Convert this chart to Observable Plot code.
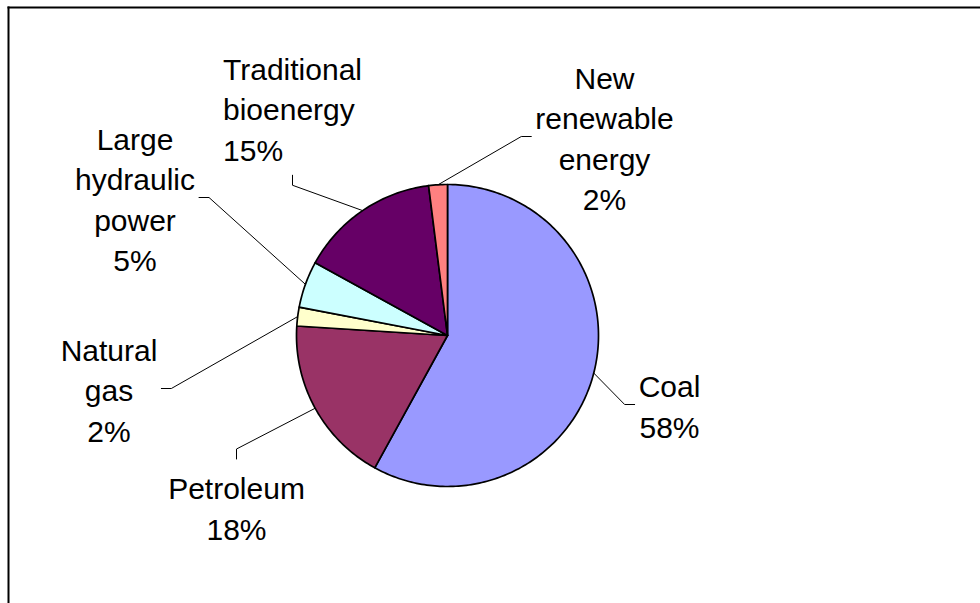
<!DOCTYPE html>
<html>
<head>
<meta charset="utf-8">
<script src="https://cdn.jsdelivr.net/npm/d3@7"></script>
<script src="https://cdn.jsdelivr.net/npm/@observablehq/plot@0.6"></script>
<style>
  html, body { margin: 0; padding: 0; background: #fff; }
  #chart svg { display: block; }
</style>
</head>
<body>
<div id="chart"></div>
<script>
// Energy sources, share of total (%), drawn clockwise from 12 o'clock
const categories = ["Coal", "Petroleum", "Natural gas", "Large hydraulic power", "Traditional bioenergy", "New renewable energy"];
const shares = [58, 18, 2, 5, 15, 2];
const colors = ["#9999FF", "#993366", "#FFFFCC", "#CCFFFF", "#660066", "#FF8080"];

// Page geometry (pixels)
const W = 980, H = 603;
const CX = 447, CY = 335, R = 151;
const FONT = "Liberation Sans, Arial, Helvetica, sans-serif";
const FS = 30, LH = 1.35;

// Label placement: block centre relative to the pie centre, alignment,
// and the side of the block where the leader line attaches
const labelLayout = [
  {dx: 222,    dy: 69,   align: "middle", side: "left"},
  {dx: -211,   dy: 171,  align: "middle", side: "top"},
  {dx: -338.5, dy: 53,   align: "middle", side: "right"},
  {dx: -312.5, dy: -138, align: "middle", side: "right"},
  {dx: -155,   dy: -228, align: "start",  side: "bottom"},
  {dx: 157,    dy: -199, align: "middle", side: "left"}
];

const rows = categories.map((name, i) => ({name, share: shares[i], color: colors[i], layout: labelLayout[i]}));
const arcs = d3.pie().sort(null).value(d => d.share)(rows);

// Slice outlines in pixel units around the centre
const slicePts = [];
for (const a of arcs) {
  const n = Math.max(2, Math.ceil((a.endAngle - a.startAngle) / (Math.PI / 180)));
  slicePts.push({name: a.data.name, color: a.data.color, x: 0, y: 0});
  for (let i = 0; i <= n; i++) {
    const t = a.startAngle + (a.endAngle - a.startAngle) * i / n;
    slicePts.push({name: a.data.name, color: a.data.color, x: R * Math.sin(t), y: -R * Math.cos(t)});
  }
}

// Text measurement for label blocks
const ctx = document.createElement("canvas").getContext("2d");
ctx.font = `${FS}px ${FONT}`;

const labels = [];
const leaders = [];
for (const a of arcs) {
  const d = a.data, L = d.layout;
  const lines = [...d.name.split(" "), `${d.share}%`];
  const w = Math.max(...lines.map(s => ctx.measureText(s).width));
  const h = lines.length * FS * LH;
  const cx = L.dx, cy = L.dy;
  labels.push({
    text: lines.join("\n"),
    x: L.align === "start" ? cx - w / 2 : cx,
    y: cy,
    align: L.align
  });
  // leader: from rim at slice mid-angle, to a short elbow, to the label block
  const mid = (a.startAngle + a.endAngle) / 2;
  const rim = [R * Math.sin(mid), -R * Math.cos(mid)];
  let end, elbow;
  const padH = 4, padV = 7, seg = 10;
  if (L.side === "left")   { end = [cx - w / 2 - padH, cy]; elbow = [end[0] - seg, cy]; }
  if (L.side === "right")  { end = [cx + w / 2 + padH, cy]; elbow = [end[0] + seg, cy]; }
  if (L.side === "top")    { end = [cx, cy - h / 2 - padV]; elbow = [cx, end[1] - seg]; }
  if (L.side === "bottom") { end = [cx, cy + h / 2 + padV]; elbow = [cx, end[1] + seg]; }
  for (const p of [rim, elbow, end]) leaders.push({name: d.name, x: p[0], y: p[1]});
}

const textOpts = {x: "x", y: "y", text: "text", fontSize: FS, lineHeight: LH, lineAnchor: "middle", fill: "black"};

const chart = Plot.plot({
  width: W,
  height: H,
  marginLeft: 8, marginTop: 7, marginRight: 0, marginBottom: 0,
  style: {fontFamily: FONT, background: "white"},
  x: {domain: [8 - CX, W - CX], range: [8, W], axis: null},
  y: {domain: [7 - CY, H - CY], range: [7, H], axis: null},
  color: {type: "identity"},
  marks: [
    Plot.frame({anchor: "top", stroke: "black", strokeWidth: 2}),
    Plot.frame({anchor: "left", stroke: "black", strokeWidth: 2}),
    Plot.line(leaders, {x: "x", y: "y", z: "name", stroke: "black", strokeWidth: 1}),
    Plot.line(slicePts, {x: "x", y: "y", z: "name", fill: "color", stroke: "black", strokeWidth: 1.7, strokeLinejoin: "round", curve: "linear-closed"}),
    Plot.text(labels.filter(d => d.align === "middle"), {...textOpts, textAnchor: "middle"}),
    Plot.text(labels.filter(d => d.align === "start"), {...textOpts, textAnchor: "start"})
  ]
});

document.getElementById("chart").append(chart);
</script>
</body>
</html>
